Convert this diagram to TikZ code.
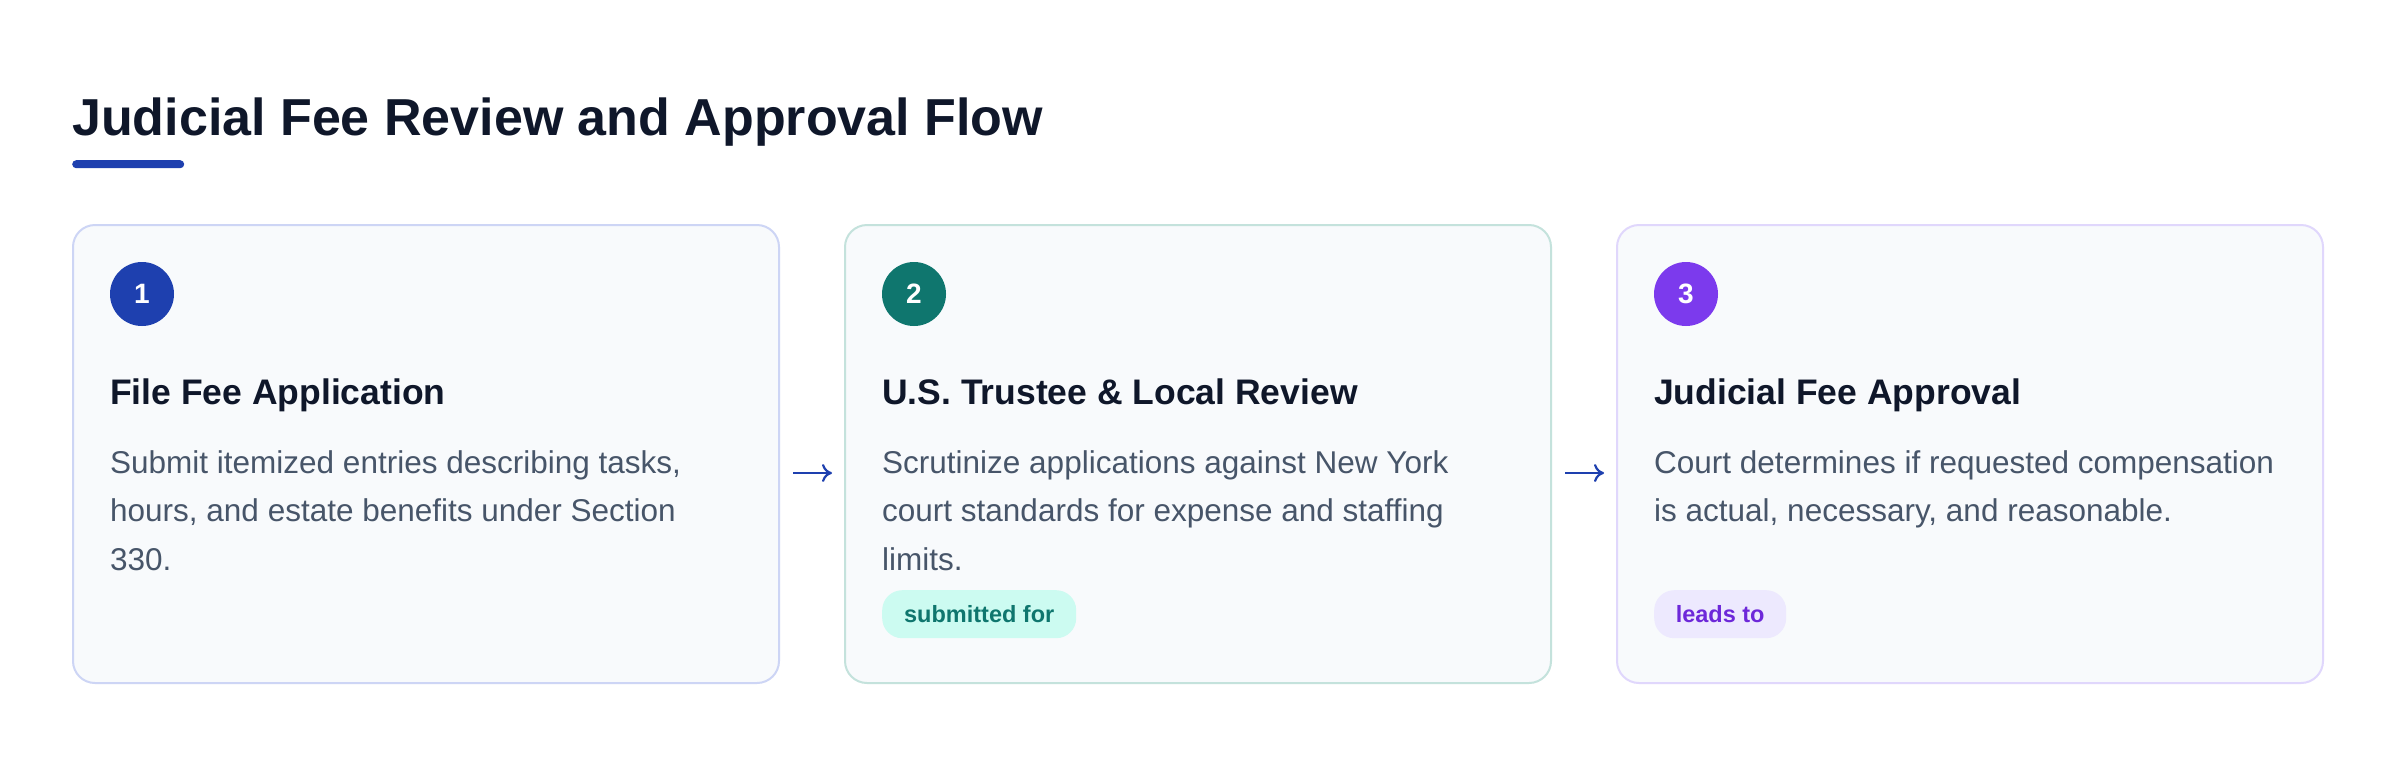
\documentclass[tikz,border=0pt]{standalone}
\usepackage{fontspec}
\setmainfont{Liberation Sans}
\usetikzlibrary{arrows.meta,calc}
\definecolor{titlec}{HTML}{0F172A}
\definecolor{barc}{HTML}{1E40AF}
\definecolor{cardc}{HTML}{F8FAFC}
\definecolor{bordA}{HTML}{CDD5F5}
\definecolor{bordB}{HTML}{C4E2DC}
\definecolor{bordC}{HTML}{E0D7FC}
\definecolor{circA}{HTML}{1E40AF}
\definecolor{circB}{HTML}{0F766E}
\definecolor{circC}{HTML}{7C3AED}
\definecolor{bodyc}{HTML}{475569}
\definecolor{badgeBf}{HTML}{CCFBF1}
\definecolor{badgeBt}{HTML}{0F766E}
\definecolor{badgeCf}{HTML}{EDE9FE}
\definecolor{badgeCt}{HTML}{6D28D9}
\begin{document}
\begin{tikzpicture}[x=1pt,y=1pt,
  cardbox/.style={draw, line width=2pt, rounded corners=22pt, fill=cardc,
    minimum width=706pt, minimum height=458pt, anchor=north west, inner sep=0pt},
  numcirc/.style={circle, minimum size=64pt, inner sep=0pt, text=white,
    font=\fontsize{28}{30}\selectfont\bfseries},
  headtext/.style={anchor=base west, inner sep=0pt, text=titlec,
    font=\fontsize{35.5}{40}\selectfont\bfseries},
  bodytext/.style={anchor=base west, inner sep=0pt, text=bodyc,
    font=\fontsize{31.5}{48.5}\selectfont},
  badgebox/.style={anchor=north west, inner sep=0pt, minimum height=48pt,
    rounded corners=20pt, font=\fontsize{23.5}{26}\selectfont\bfseries},
  flowarrow/.style={draw=barc, line width=2.2pt, -{To[length=10pt,width=18pt]}}
]
\useasboundingbox (0,0) rectangle (2400,-756);
\fill[white] (0,0) rectangle (2400,-756);

\node[anchor=base west, inner sep=0pt, text=titlec,
  font=\fontsize{52}{60}\selectfont\bfseries] (title) at (72,-135)
  {Judicial Fee Review and Approval Flow};
\node[fill=barc, rounded corners=4pt, minimum width=112pt, minimum height=8pt,
  inner sep=0pt, anchor=north west] (bar) at (72,-160) {};

% cards
\node[cardbox, draw=bordA] (c1) at (72,-224) {};
\node[cardbox, draw=bordB] (c2) at (844,-224) {};
\node[cardbox, draw=bordC] (c3) at (1616,-224) {};

% card 1
\node[numcirc, fill=circA] (n1) at (142,-294) {1};
\node[headtext] (h1) at (110,-404) {File Fee Application};
\node[bodytext] (t1) at (110,-473) {\parbox[t]{660pt}{\raggedright
  Submit itemized entries describing tasks,\\
  hours, and estate benefits under Section\\
  330.}};

% card 2
\node[numcirc, fill=circB] (n2) at (914,-294) {2};
\node[headtext] (h2) at (882,-404) {U.S. Trustee \& Local Review};
\node[bodytext] (t2) at (882,-473) {\parbox[t]{660pt}{\raggedright
  Scrutinize applications against New York\\
  court standards for expense and staffing\\
  limits.}};
\node[badgebox, fill=badgeBf, text=badgeBt, minimum width=194pt] (g2) at (882,-590) {submitted for};

% card 3
\node[numcirc, fill=circC] (n3) at (1686,-294) {3};
\node[headtext] (h3) at (1654,-404) {Judicial Fee Approval};
\node[bodytext] (t3) at (1654,-473) {\parbox[t]{660pt}{\raggedright
  Court determines if requested compensation\\
  is actual, necessary, and reasonable.}};
\node[badgebox, fill=badgeCf, text=badgeCt, minimum width=132pt] (g3) at (1654,-590) {leads to};

% connectors
\draw[flowarrow] ([xshift=13pt,yshift=-19pt]c1.east) -- ([xshift=-12pt,yshift=-19pt]c2.west);
\draw[flowarrow] ([xshift=13pt,yshift=-19pt]c2.east) -- ([xshift=-12pt,yshift=-19pt]c3.west);
\end{tikzpicture}
\end{document}
